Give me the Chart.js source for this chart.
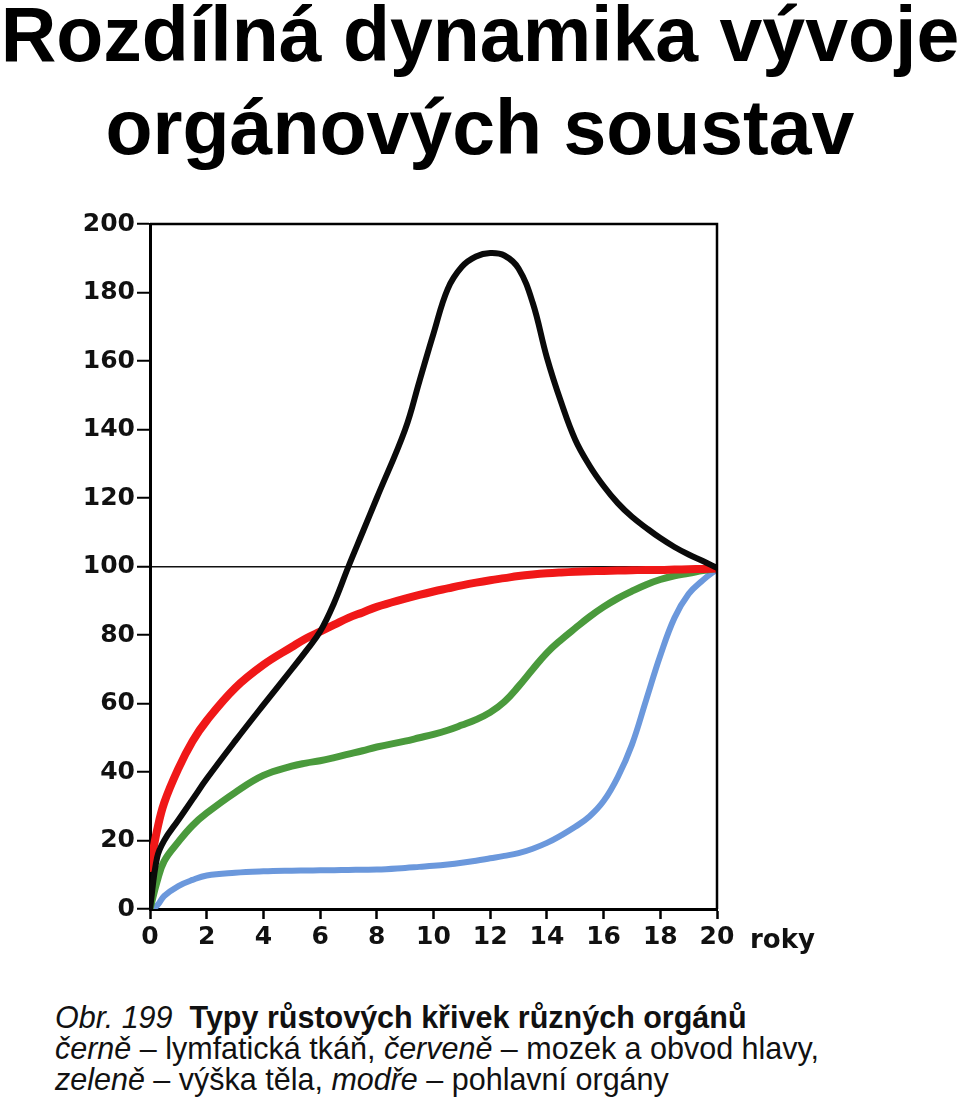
<!DOCTYPE html>
<html lang="cs">
<head>
<meta charset="utf-8">
<title>Rozdílná dynamika vývoje orgánových soustav</title>
<script src="https://cdn.jsdelivr.net/npm/chart.js@4.4.1/dist/chart.umd.min.js"></script>
<style>
  body {
    margin: 0;
    width: 960px;
    height: 1118px;
    position: relative;
    background: #fff;
    overflow: hidden;
  }
  #title {
    position: absolute;
    top: -12px;
    left: 0;
    width: 960px;
    text-align: center;
    font: bold 77px/93px "Liberation Sans", Arial, sans-serif;
    color: #000;
  }
  #plot {
    position: absolute;
    top: 180px;
    left: 0;
  }
  #caption {
    position: absolute;
    top: 1002px;
    left: 55px;
    font: 30.5px/31px "Liberation Sans", Arial, sans-serif;
    color: #111;
    white-space: nowrap;
  }
  #caption b { font-weight: bold; }
</style>
</head>
<body>
<div id="title">Rozdílná dynamika vývoje<br>orgánových soustav</div>
<div id="plot"><canvas id="chart" width="960" height="800"></canvas></div>
<div id="caption">
  <i>Obr. 199</i>&nbsp; <b>Typy růstových křivek různých orgánů</b><br>
  <i>černě</i> – lymfatická tkáň, <i>červeně</i> – mozek a obvod hlavy,<br>
  <i>zeleně</i> – výška těla, <i>modře</i> – pohlavní orgány
</div>

<script>
// věk v letech (společná osa x pro všechny křivky)
const years = [0, 0.25, 0.5, 1, 1.5, 2, 3, 4, 5, 5.5, 6, 6.5, 7, 7.5, 8, 9, 9.5, 10, 10.5,
  11, 11.5, 12, 12.5, 13, 13.5, 14, 14.5, 15, 15.5, 16, 16.5, 17, 17.5, 18, 18.5, 19, 19.5, 20];

// černě - lymfatická tkáň
const lymfatickaTkan = [0, 15, 20, 26, 32, 38, 49, 59.6, 70, 75.3, 81, 89.5, 100, 110, 120, 140, 154, 168, 181,
  187.5, 190.5, 191.5, 190.8, 187, 177, 161, 148, 137, 129.5, 123.5, 118.5, 114.5, 111.3, 108.3, 105.7, 103.5, 101.6, 99.6];

// červeně - mozek a obvod hlavy
const mozekHlava = [12, 23, 31, 41, 49, 55, 64.5, 71.3, 76.5, 79, 81, 83, 85, 86.6, 88.2, 90.6, 91.7, 92.7, 93.6,
  94.5, 95.3, 96, 96.6, 97.2, 97.65, 98, 98.25, 98.45, 98.6, 98.7, 98.8, 98.9, 99, 99, 99.1, 99.2, 99.3, 99.4];

// zeleně - výška těla
const vyskaTela = [0, 8, 14, 19.6, 24.4, 28, 34, 39, 41.7, 42.6, 43.3, 44.2, 45.2, 46.2, 47.3, 49, 50, 51, 52.2,
  53.7, 55.3, 57.4, 60.5, 65, 70, 74.8, 78.6, 82, 85.3, 88.2, 90.7, 92.8, 94.7, 96.2, 97.3, 98, 98.8, 99.4];

// modře - pohlavní orgány
const pohlavniOrgany = [0, 1, 3.8, 6.7, 8.5, 9.8, 10.6, 11, 11.2, 11.25, 11.3, 11.35, 11.4, 11.45, 11.5, 12, 12.3, 12.6, 13,
  13.5, 14.1, 14.8, 15.5, 16.3, 17.6, 19.3, 21.5, 24, 27, 31.5, 38.5, 48, 61, 74, 85, 92, 96, 99.2];

const xLabel = 'roky';

const TICK_FONT = { family: '"DejaVu Sans", sans-serif', size: 25, weight: 'bold' };

function toPoints(values) {
  return years.map((x, i) => ({ x: x, y: values[i] }));
}

// horní a pravá strana rámečku grafu + popis osy x
const framePlugin = {
  id: 'frame',
  afterDraw(chart) {
    const { ctx, chartArea } = chart;
    const xScale = chart.scales.x;
    ctx.save();
    ctx.strokeStyle = '#000';
    ctx.lineWidth = 2.5;
    ctx.beginPath();
    ctx.moveTo(chartArea.left, chartArea.top);
    ctx.lineTo(chartArea.right, chartArea.top);
    ctx.lineTo(chartArea.right, chartArea.bottom);
    ctx.stroke();

    ctx.fillStyle = '#111';
    ctx.font = 'bold 26px "DejaVu Sans", sans-serif';
    ctx.textAlign = 'left';
    ctx.textBaseline = 'alphabetic';
    ctx.fillText(xLabel, xScale.getPixelForValue(20) + 33, chartArea.bottom + 39);
    ctx.restore();
  }
};

new Chart(document.getElementById('chart'), {
  type: 'line',
  data: {
    datasets: [
      { label: 'černě – lymfatická tkáň', data: toPoints(lymfatickaTkan), borderColor: '#0a0a0a', borderWidth: 6, order: 1 },
      { label: 'červeně – mozek a obvod hlavy', data: toPoints(mozekHlava), borderColor: '#f01818', borderWidth: 8, order: 2 },
      { label: 'zeleně – výška těla', data: toPoints(vyskaTela), borderColor: '#4a9a3c', borderWidth: 7, order: 3 },
      { label: 'modře – pohlavní orgány', data: toPoints(pohlavniOrgany), borderColor: '#6b98dc', borderWidth: 6, order: 4 }
    ]
  },
  options: {
    responsive: false,
    animation: false,
    layout: { padding: { left: 75, right: 243, top: 44, bottom: 21 } },
    elements: {
      point: { radius: 0 },
      line: { tension: 0.4, borderCapStyle: 'round', borderJoinStyle: 'round' }
    },
    plugins: {
      legend: { display: false },
      tooltip: { enabled: false }
    },
    scales: {
      x: {
        type: 'linear',
        min: 0,
        max: 20,
        ticks: { stepSize: 2, font: TICK_FONT, color: '#111', padding: 3, maxRotation: 0 },
        grid: { drawOnChartArea: false, tickLength: 10, tickWidth: 2.5, tickColor: '#000' },
        border: { display: true, color: '#000', width: 3 },
        afterFit: (scale) => { scale.height = 50; }
      },
      y: {
        min: 0,
        max: 200,
        ticks: { stepSize: 20, font: TICK_FONT, color: '#111', padding: 2 },
        grid: {
          color: (ctx) => (ctx.tick && ctx.tick.value === 100 ? '#111' : 'transparent'),
          lineWidth: 1.5,
          tickLength: 13,
          tickWidth: 2,
          tickColor: '#000'
        },
        border: { display: true, color: '#000', width: 3 },
        afterFit: (scale) => { scale.width = 75; }
      }
    }
  },
  plugins: [framePlugin]
});
</script>
</body>
</html>
